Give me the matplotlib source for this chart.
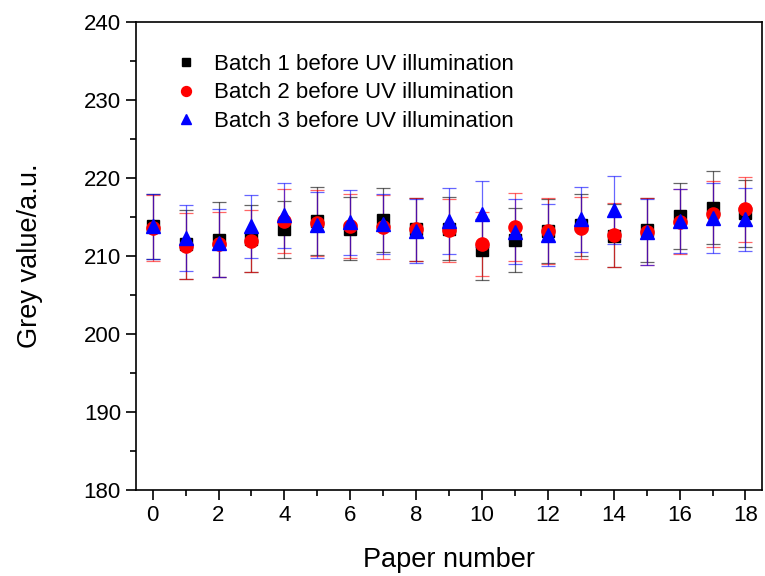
import numpy as np
import matplotlib
matplotlib.use('Agg')
import matplotlib.pyplot as plt
from matplotlib.ticker import MultipleLocator

plt.rcParams['font.family'] = ['Liberation Sans', 'DejaVu Sans']

paper = np.arange(19)

batch1 = [213.8, 211.5, 212.1, 212.2, 213.4, 214.5, 213.5, 214.6, 213.4, 213.5, 210.8,
          212.1, 213.2, 214.0, 212.6, 213.3, 215.1, 216.2, 215.5]
batch1_err = [4.2, 4.4, 4.85, 4.3, 3.7, 4.35, 4.0, 4.1, 4.0, 4.05, 3.9,
              4.1, 4.1, 4.0, 4.05, 4.1, 4.2, 4.7, 4.3]

batch2 = [213.6, 211.3, 211.5, 211.9, 214.5, 214.2, 213.9, 213.7, 213.4, 213.3, 211.5,
          213.7, 213.2, 213.6, 212.7, 213.1, 214.4, 215.4, 216.0]
batch2_err = [4.2, 4.25, 4.15, 4.0, 4.05, 4.2, 4.1, 4.1, 4.0, 4.05, 4.1,
              4.4, 4.2, 4.0, 4.05, 4.3, 4.2, 4.25, 4.15]

batch3 = [213.8, 212.3, 211.7, 213.8, 215.2, 214.0, 214.3, 214.1, 213.2, 214.5, 215.4,
          213.1, 212.7, 214.7, 215.9, 213.1, 214.5, 214.9, 214.7]
batch3_err = [4.2, 4.25, 4.35, 4.05, 4.2, 4.2, 4.15, 3.8, 4.05, 4.25, 4.2,
              4.15, 4.0, 4.2, 4.35, 4.2, 4.05, 4.45, 4.0]

labels = ['Batch 1 before UV illumination',
          'Batch 2 before UV illumination',
          'Batch 3 before UV illumination']

fig = plt.figure(figsize=(7.65, 5.76), dpi=100)
ax = fig.add_axes([0.178, 0.149, 0.818, 0.813])

series = [(batch1, batch1_err, 's', '#000000', 8.5),
          (batch2, batch2_err, 'o', '#ff0000', 9.5),
          (batch3, batch3_err, '^', '#0000ff', 10)]

for (vals, errs, mk, col, ms), lab in zip(series, labels):
    ax.errorbar(paper, vals, yerr=errs, fmt=mk, color=col, ms=ms, mec=col,
                ecolor=col, elinewidth=0.9, capsize=5, capthick=0.9,
                label=lab)
# error bars look a bit washed out in the original
for ln in ax.lines:
    if ln.get_marker() == '_':
        ln.set_alpha(0.6)
for coll in ax.collections:
    coll.set_alpha(0.6)

ax.set_xlim(-0.5, 18.5)
ax.set_ylim(180, 240)
ax.xaxis.set_major_locator(MultipleLocator(2))
ax.xaxis.set_minor_locator(MultipleLocator(1))
ax.yaxis.set_major_locator(MultipleLocator(10))
ax.yaxis.set_minor_locator(MultipleLocator(5))
ax.tick_params(which='major', direction='out', length=7, width=1.2, labelsize=16, pad=4)
ax.tick_params(which='minor', direction='out', length=4, width=1.2)
ax.tick_params(top=False, right=False)
for sp in ax.spines.values():
    sp.set_linewidth(1.2)

ax.set_xlabel('Paper number', fontsize=19.5, labelpad=15)
ax.set_ylabel('Grey value/a.u.', fontsize=19.5, labelpad=29)

handles, labs = ax.get_legend_handles_labels()
handles = [h[0] for h in handles]
ax.legend(handles, labs, loc='upper left', frameon=False, fontsize=16,
          bbox_to_anchor=(0.028, 0.974), handletextpad=0.7, labelspacing=0.33,
          handlelength=1.1, markerscale=0.75)

fig.savefig('out.png', dpi=100)
